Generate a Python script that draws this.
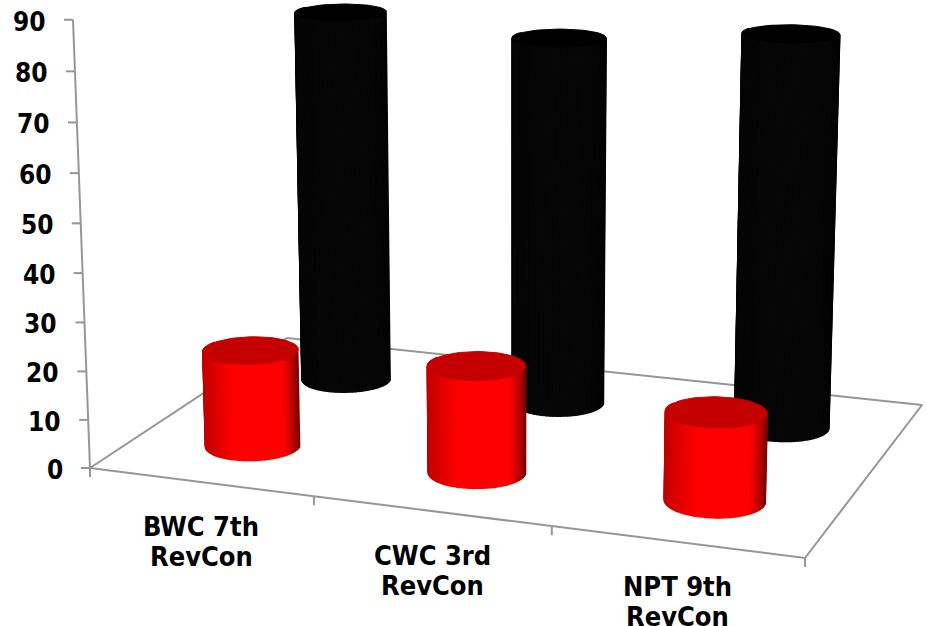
import numpy as np, plotly.graph_objects as go

W, H = 926, 626
cat_line1 = ["BWC 7th", "CWC 3rd", "NPT 9th"]
cat_line2 = ["RevCon", "RevCon", "RevCon"]
red_values = [20, 21.8, 17.7]
black_values = [80.3, 77.8, 81.6]
y_ticks = list(range(0, 100, 10))
Y_MAX = 90

# camera calibration: floor corners (pixels) and vertical axis
FLOOR = [(90, 468), (805, 558), (922, 405), (287, 338)]
VP = (516, 11700)
TOP = (73, 20)

def homography():
    src = [(0, 0), (1, 0), (1, 1), (0, 1)]
    A, b = [], []
    for (u, v), (x, y) in zip(src, FLOOR):
        A.append([u, v, 1, 0, 0, 0, -u*x, -v*x]); b.append(x)
        A.append([0, 0, 0, u, v, 1, -u*y, -v*y]); b.append(y)
    h = np.linalg.solve(np.array(A, float), np.array(b, float))
    return np.array([[h[0], h[1], h[2]], [h[3], h[4], h[5]], [h[6], h[7], 1.0]])

Hm = homography()
i_z = (TOP[0] - FLOOR[0][0]) / (VP[0] - TOP[0])
Pm = np.array([
    [Hm[0, 0], Hm[0, 1], VP[0]*i_z, Hm[0, 2]],
    [Hm[1, 0], Hm[1, 1], VP[1]*i_z, Hm[1, 2]],
    [Hm[2, 0], Hm[2, 1], i_z, 1.0]])

def proj(u, v, val):
    u, v, val = np.broadcast_arrays(np.asarray(u, float), np.asarray(v, float), np.asarray(val, float))
    X = np.stack([u, v, val / Y_MAX, np.ones_like(u)])
    p = Pm @ X
    return p[0] / p[2], p[1] / p[2]

fig = go.Figure()
GRAY = "#969696"
FAMILY = "DejaVu Sans Condensed, DejaVu Sans"

def line(xs, ys):
    fig.add_trace(go.Scatter(x=list(xs), y=list(ys), mode="lines",
                             line=dict(color=GRAY, width=2), hoverinfo="skip", showlegend=False))

def label(x, y, text, anchor, size):
    fig.add_annotation(x=x, y=y, text=f"<b>{text}</b>", showarrow=False, xanchor=anchor,
                       yanchor="middle", font=dict(family=FAMILY, size=size, color="#000000"))

# floor outline
c = [(0, 0), (1, 0), (1, 1), (0, 1), (0, 0)]
fx, fy = proj([p[0] for p in c], [p[1] for p in c], 0)
line(fx, fy)
# value axis
ax, ay = proj([0, 0], [0, 0], [0, Y_MAX])
line(ax, ay)
for t in y_ticks:
    x, y = proj(0, 0, t)
    x, y = float(x), float(y)
    line([x - 9, x], [y, y])
    label(x - 25, y + 2, str(t), "right", 26)
# category ticks
for k in range(4):
    x, y = proj(k / 3, 0, 0)
    x, y = float(x), float(y)
    line([x, x], [y, y + 9])
for k in range(3):
    x, y = proj((k + .5) / 3, 0, 0)
    label(float(x) + 1, float(y) + 45, cat_line1[k], "center", 27)
    label(float(x) + 1, float(y) + 75, cat_line2[k], "center", 27)

RU, RV = 0.066, 0.10
N = 48

def shade(base, t):
    if t < 0.33:
        k = 0.72 + 0.28 * (t / 0.33) ** 0.7
    elif t < 0.82:
        k = 1.0
    else:
        k = 1.0 - 0.5 * ((t - 0.82) / 0.18) ** 1.5
    return "rgb(%d,%d,%d)" % tuple(int(round(b * k)) for b in base)

def cylinder(u0, v0, val, base, top_col):
    th = np.linspace(np.pi - 0.25, 2 * np.pi + 0.25, N + 1)
    us = u0 + RU * np.cos(th)
    vs = v0 + RV * np.sin(th)
    xb, yb = proj(us, vs, 0)
    xt, yt = proj(us, vs, val)
    lo, hi = xb.min(), xb.max()
    for i in range(N):
        t = ((xb[i] + xb[i + 1]) / 2 - lo) / (hi - lo)
        col = shade(base, float(np.clip(t, 0, 1)))
        fig.add_trace(go.Scatter(
            x=[xb[i], xb[i + 1], xt[i + 1], xt[i], xb[i]],
            y=[yb[i], yb[i + 1], yt[i + 1], yt[i], yb[i]],
            mode="lines", fill="toself", fillcolor=col, line=dict(color=col, width=1.5),
            hoverinfo="skip", showlegend=False))
    th2 = np.linspace(0, 2 * np.pi, 73)
    x2, y2 = proj(u0 + RU * np.cos(th2), v0 + RV * np.sin(th2), val)
    fig.add_trace(go.Scatter(x=x2, y=y2, mode="lines", fill="toself", fillcolor=top_col,
                             line=dict(color=top_col, width=1), hoverinfo="skip", showlegend=False))

for k in range(3):
    cylinder((k + .5) / 3 + 0.0035, 0.75, black_values[k], (6, 6, 6), "#000000")
for k in range(3):
    cylinder((k + .5) / 3 + 0.002, 0.25, red_values[k], (255, 0, 0), "#c40000")

fig.update_layout(width=W, height=H, margin=dict(l=0, r=0, t=0, b=0),
                  showlegend=False, paper_bgcolor="#ffffff", plot_bgcolor="#ffffff",
                  xaxis=dict(range=[0, W], visible=False, fixedrange=True),
                  yaxis=dict(range=[H, 0], visible=False, fixedrange=True))
fig.write_html("out.html", config=dict(displayModeBar=False),
               post_script="document.body.style.margin='0';document.body.style.overflow='hidden';")
